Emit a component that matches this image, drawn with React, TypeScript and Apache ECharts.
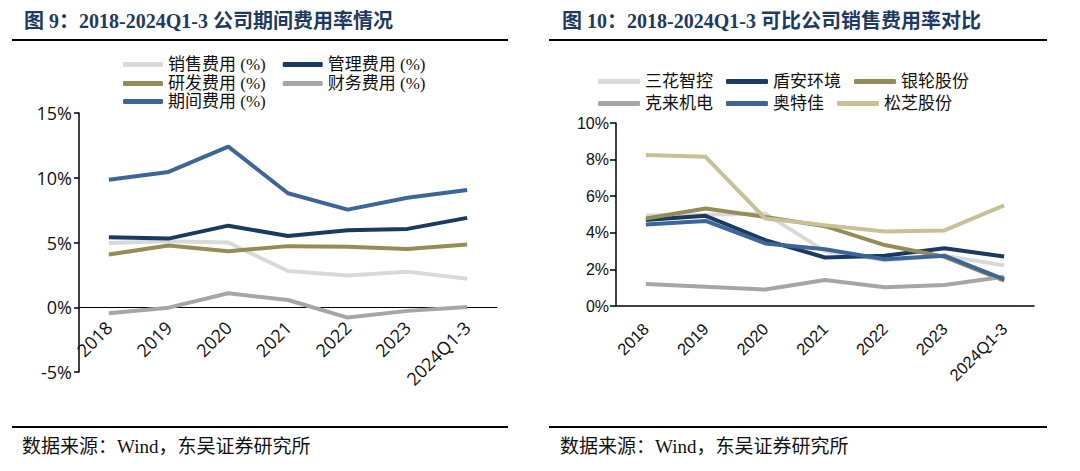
import React, { useEffect, useRef } from 'react';
import * as echarts from 'echarts';

const years = ['2018', '2019', '2020', '2021', '2022', '2023', '2024Q1-3'];

// Left chart: company expense ratios (%)
const salesRate = [4.97, 5.1, 5.0, 2.8, 2.45, 2.75, 2.2];
const mgmtRate = [5.4, 5.3, 6.3, 5.5, 5.95, 6.05, 6.9];
const rdRate = [4.07, 4.77, 4.33, 4.72, 4.68, 4.5, 4.85];
const finRate = [-0.46, -0.03, 1.08, 0.56, -0.8, -0.28, 0.02];
const periodRate = [9.85, 10.45, 12.4, 8.8, 7.54, 8.45, 9.05];

// Right chart: comparable companies' sales expense ratios (%)
const sanhua = [4.95, 4.98, 5.05, 3.0, 2.5, 2.75, 2.22];
const dunan = [4.7, 4.93, 3.6, 2.65, 2.75, 3.15, 2.7];
const yinlun = [4.78, 5.33, 4.87, 4.36, 3.33, 2.69, 1.38];
const kelai = [1.2, 1.05, 0.9, 1.42, 1.02, 1.15, 1.6];
const aotejia = [4.45, 4.65, 3.42, 3.1, 2.55, 2.75, 1.45];
const songzhi = [8.25, 8.15, 4.78, 4.42, 4.07, 4.13, 5.5];

const leftTicks = { min: -5, max: 15, interval: 5 };
const rightTicks = { min: 0, max: 10, interval: 2 };

const serif = "'Liberation Serif', 'Noto Sans CJK SC', serif";

const leftGridH = 259;

export default function App() {
  const ref = useRef<HTMLDivElement>(null);
  useEffect(() => {
    if (!ref.current) return;
    const chart = echarts.init(ref.current, undefined, { renderer: 'svg' });
    const lineSeries = (name: string, data: number[], color: string, idx: number) => ({
      name,
      type: 'line',
      data,
      xAxisIndex: idx,
      yAxisIndex: idx,
      symbol: 'none',
      lineStyle: { color, width: 4 },
      itemStyle: { color },
    });
    const legendBase = {
      icon: 'roundRect',
      itemWidth: 40,
      itemHeight: 5,
      selectedMode: false,
      orient: 'horizontal',
      textStyle: { fontFamily: serif, fontSize: 17, color: '#111', width: 110 },
    };
    // zero line position offset relative to the bottom of the left grid
    const zeroOffset = -(leftGridH * (0 - leftTicks.min)) / (leftTicks.max - leftTicks.min);
    const option: any = {
      animation: false,
      graphic: [
        {
          type: 'text', left: 24, top: 11,
          style: { text: '图 9：2018-2024Q1-3 公司期间费用率情况', fontFamily: serif, fontWeight: 'bold', fontSize: 20, fill: '#1f3a60' },
        },
        {
          type: 'text', left: 562, top: 11,
          style: { text: '图 10：2018-2024Q1-3 可比公司销售费用率对比', fontFamily: serif, fontWeight: 'bold', fontSize: 20, fill: '#1f3a60' },
        },
        { type: 'rect', shape: { x: 12, y: 39, width: 496, height: 2 }, style: { fill: '#000' } },
        { type: 'rect', shape: { x: 549, y: 39, width: 498, height: 2 }, style: { fill: '#000' } },
        { type: 'rect', shape: { x: 12, y: 426, width: 496, height: 2 }, style: { fill: '#000' } },
        { type: 'rect', shape: { x: 549, y: 426, width: 498, height: 2 }, style: { fill: '#000' } },
        {
          type: 'text', left: 22, top: 437,
          style: { text: '数据来源：Wind，东吴证券研究所', fontFamily: serif, fontSize: 19, fill: '#111' },
        },
        {
          type: 'text', left: 560, top: 437,
          style: { text: '数据来源：Wind，东吴证券研究所', fontFamily: serif, fontSize: 19, fill: '#111' },
        },
      ],
      legend: [
        { ...legendBase, left: 118, top: 51, itemGap: 17, data: ['销售费用 (%)', '管理费用 (%)'] },
        { ...legendBase, left: 118, top: 70, itemGap: 17, data: ['研发费用 (%)', '财务费用 (%)'] },
        { ...legendBase, left: 118, top: 88, itemGap: 17, data: ['期间费用 (%)'] },
        { ...legendBase, left: 593, top: 68, itemWidth: 42, itemGap: 13, textStyle: { ...legendBase.textStyle, width: 80 }, data: ['三花智控', '盾安环境', '银轮股份'] },
        { ...legendBase, left: 593, top: 90, itemWidth: 42, itemGap: 13, textStyle: { ...legendBase.textStyle, width: 80 }, data: ['克来机电', '奥特佳', '松芝股份'] },
      ],
      grid: [
        { left: 79, top: 113, width: 418, height: leftGridH },
        { left: 616, top: 123, width: 418, height: 183 },
      ],
      xAxis: [
        {
          type: 'category', gridIndex: 0, data: years, boundaryGap: true,
          position: 'bottom', offset: zeroOffset,
          axisLine: { onZero: false, lineStyle: { color: '#000', width: 1 } },
          axisTick: { show: false },
          axisLabel: { rotate: 45, margin: 17, fontSize: 18, fontFamily: 'Open Sans', color: '#111', interval: 0 },
        },
        {
          type: 'category', gridIndex: 1, data: years, boundaryGap: true,
          axisLine: { onZero: true, lineStyle: { color: '#000', width: 1.5 } },
          axisTick: { show: false },
          axisLabel: { rotate: 45, margin: 20, fontSize: 16.5, fontFamily: 'Liberation Sans', color: '#111', interval: 0 },
        },
      ],
      yAxis: [
        {
          type: 'value', gridIndex: 0, ...leftTicks,
          axisLine: { show: true, lineStyle: { color: '#000', width: 1.5 } },
          axisTick: { show: true, length: 5, lineStyle: { color: '#000', width: 1.5 } },
          splitLine: { show: false },
          axisLabel: { formatter: '{value}%', fontSize: 18, fontFamily: 'Open Sans', color: '#111', margin: 7 },
        },
        {
          type: 'value', gridIndex: 1, ...rightTicks,
          axisLine: { show: true, lineStyle: { color: '#000', width: 1.5 } },
          axisTick: { show: true, length: 6, lineStyle: { color: '#000', width: 1.5 } },
          splitLine: { show: false },
          axisLabel: { formatter: '{value}%', fontSize: 16, fontFamily: 'Liberation Sans', color: '#111', margin: 7 },
        },
      ],
      series: [
        lineSeries('销售费用 (%)', salesRate, '#d9d9d9', 0),
        lineSeries('管理费用 (%)', mgmtRate, '#1b3a62', 0),
        lineSeries('研发费用 (%)', rdRate, '#968c58', 0),
        lineSeries('财务费用 (%)', finRate, '#a6a6a6', 0),
        lineSeries('期间费用 (%)', periodRate, '#3d6698', 0),
        lineSeries('三花智控', sanhua, '#d9d9d9', 1),
        lineSeries('盾安环境', dunan, '#1b3a62', 1),
        lineSeries('银轮股份', yinlun, '#968c58', 1),
        lineSeries('克来机电', kelai, '#a6a6a6', 1),
        lineSeries('奥特佳', aotejia, '#3d6698', 1),
        lineSeries('松芝股份', songzhi, '#c8c198', 1),
      ],
    };
    chart.setOption(option);
    return () => chart.dispose();
  }, []);
  return (
    <div
      ref={ref}
      style={{ position: 'fixed', left: 0, top: 0, width: 1080, height: 471, background: '#fff' }}
    />
  );
}
